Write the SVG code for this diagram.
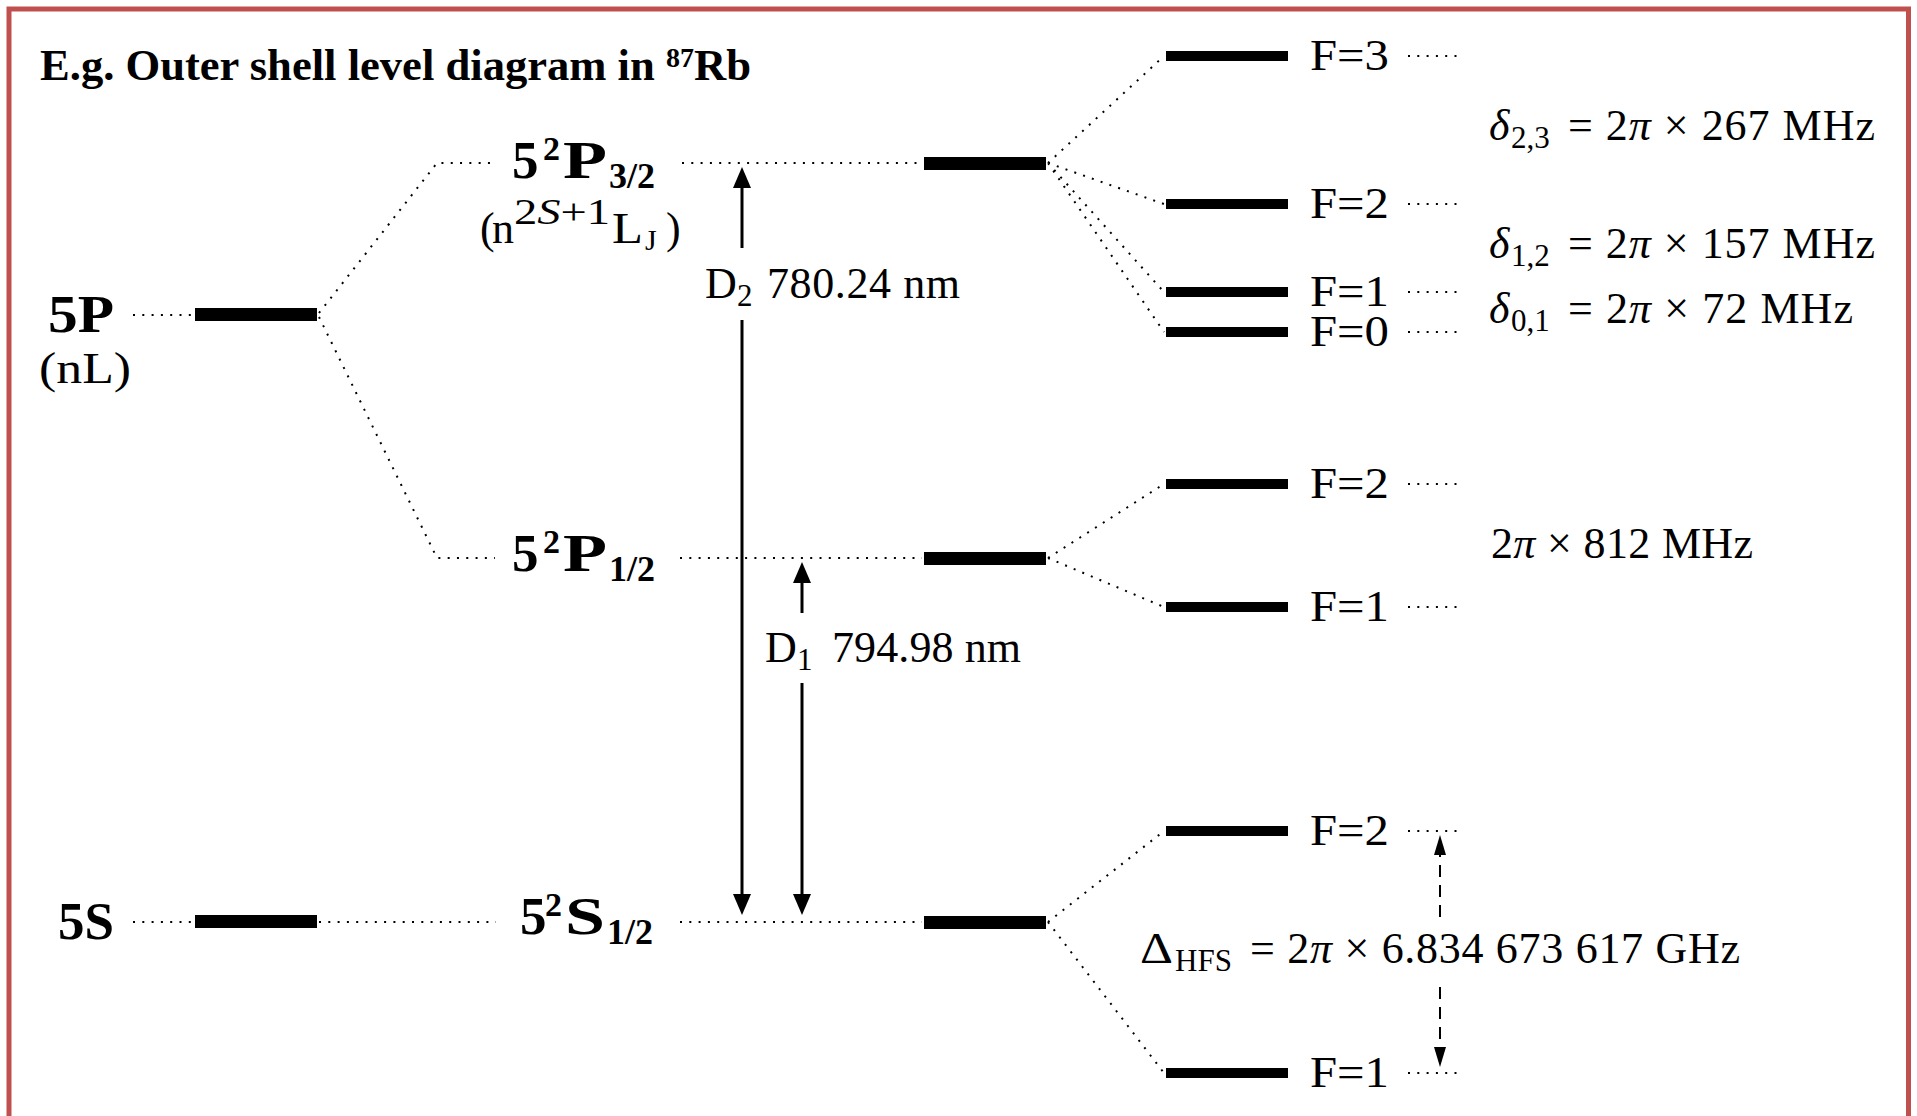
<svg xmlns="http://www.w3.org/2000/svg" width="1917" height="1116" viewBox="0 0 1917 1116">
<defs>
<style>
.t{font-family:"Liberation Serif","DejaVu Serif",serif;fill:#000}
.b{font-weight:bold}
.i{font-style:italic}
.dot{stroke:#000;stroke-width:2;stroke-dasharray:2 7.3;fill:none}
.bar{fill:#000}
.arr{stroke:#000;stroke-width:3;fill:none}
.dash{stroke:#000;stroke-width:2;stroke-dasharray:12 8;fill:none}
</style>
<marker id="ah" viewBox="0 0 21 18" refX="0" refY="9" markerWidth="21" markerHeight="18" markerUnits="userSpaceOnUse" orient="auto"><path d="M0,0 L21,9 L0,18 z" fill="#000"/></marker>
<marker id="ahs" viewBox="0 0 20 12" refX="0" refY="6" markerWidth="20" markerHeight="12" markerUnits="userSpaceOnUse" orient="auto"><path d="M0,0 L20,6 L0,12 z" fill="#000"/></marker>
</defs>
<rect x="0" y="0" width="1917" height="1116" fill="#fff"/>
<rect id="frame" x="9" y="9" width="1899.5" height="1110" fill="none" stroke="#C0504D" stroke-width="5"/>

<g font-size="44">
<text id="title" class="t b" x="40" y="80" font-size="44.6">E.g. Outer shell level diagram in <tspan font-size="28" dy="-13">87</tspan><tspan dy="13">Rb</tspan></text>

<g id="connectors">
<path class="dot" d="M133,315 L192,315 M133,922 L192,922 M319,922 L496,922 M319,313 L437,163 L495,163 M319,317 L437,558 L495,558 M682,163 L922,163 M680,558 L922,558 M680,922 L922,922"/>
<path class="dot" d="M1048,163 L1164,56 M1048,163 L1164,204 M1048,163 L1164,292 M1048,163 L1164,332 M1048,558 L1164,484 M1048,558 L1164,607 M1048,922 L1164,831 M1048,922 L1164,1073"/>
<path class="dot" d="M1408,56 L1462,56 M1408,204 L1462,204 M1408,292 L1462,292 M1408,332 L1462,332 M1408,484 L1462,484 M1408,607 L1462,607 M1408,831 L1462,831 M1408,1073 L1462,1073"/>
<line class="arr" x1="742" y1="248" x2="742" y2="188" marker-end="url(#ah)"/>
<line class="arr" x1="742" y1="320" x2="742" y2="894" marker-end="url(#ah)"/>
<line class="arr" x1="802" y1="613" x2="802" y2="583" marker-end="url(#ah)"/>
<line class="arr" x1="802" y1="683" x2="802" y2="894" marker-end="url(#ah)"/>
<line class="dash" x1="1440" y1="917" x2="1440" y2="855" marker-end="url(#ahs)"/>
<line class="dash" x1="1440" y1="987" x2="1440" y2="1047" marker-end="url(#ahs)"/>
</g>

<g id="n5P">
<rect class="bar" x="195" y="308" width="122" height="13"/>
<text class="t b" x="48" y="332" font-size="52" textLength="66" lengthAdjust="spacingAndGlyphs">5P</text>
<text class="t" x="39" y="383" textLength="92" lengthAdjust="spacingAndGlyphs">(nL)</text>
</g>
<g id="n5S">
<rect class="bar" x="195" y="915" width="122" height="13"/>
<text class="t b" x="58" y="939" font-size="52" textLength="56" lengthAdjust="spacingAndGlyphs">5S</text>
</g>

<g id="n5P32">
<rect class="bar" x="924" y="157" width="122" height="13"/>
<text class="t b" font-size="53"><tspan x="512" y="178">5</tspan><tspan x="543" y="160" font-size="34">2</tspan></text>
<text class="t b" x="563" y="178" font-size="53" textLength="44" lengthAdjust="spacingAndGlyphs">P</text>
<text class="t b" x="609" y="188" font-size="36">3/2</text>
<text class="t"><tspan x="480" y="243">(</tspan><tspan x="492" y="243">n</tspan></text>
<text class="t" x="514" y="224" font-size="36" textLength="96" lengthAdjust="spacingAndGlyphs">2<tspan class="i">S</tspan>+1</text>
<text class="t" x="612" y="243" textLength="31" lengthAdjust="spacingAndGlyphs">L</text>
<text class="t" x="645" y="250" font-size="30">J</text>
<text class="t" x="666" y="243">)</text>
</g>
<g id="n5P12">
<rect class="bar" x="924" y="552" width="122" height="13"/>
<text class="t b" font-size="53"><tspan x="512" y="571">5</tspan><tspan x="543" y="553" font-size="34">2</tspan></text>
<text class="t b" x="563" y="571" font-size="53" textLength="44" lengthAdjust="spacingAndGlyphs">P</text>
<text class="t b" x="609" y="581" font-size="36">1/2</text>
</g>
<g id="n5S12">
<rect class="bar" x="924" y="916" width="122" height="13"/>
<text class="t b" font-size="53"><tspan x="520" y="934">5</tspan><tspan x="545" y="916" font-size="34">2</tspan></text>
<text class="t b" x="565" y="934" font-size="53" textLength="40" lengthAdjust="spacingAndGlyphs">S</text>
<text class="t b" x="607" y="944" font-size="36">1/2</text>
</g>

<g id="lblD2">
<text class="t"><tspan x="705" y="298">D</tspan><tspan x="737" y="306" font-size="31">2</tspan></text>
<text class="t" x="767" y="298" textLength="193">780.24 nm</text>
</g>
<g id="lblD1">
<text class="t"><tspan x="765" y="662">D</tspan><tspan x="797" y="670" font-size="31">1</tspan></text>
<text class="t" x="832" y="662" textLength="189">794.98 nm</text>
</g>

<g id="hfP32">
<rect class="bar" x="1166" y="51" width="122" height="10"/>
<rect class="bar" x="1166" y="199" width="122" height="10"/>
<rect class="bar" x="1166" y="287" width="122" height="10"/>
<rect class="bar" x="1166" y="327" width="122" height="10"/>
<text class="t" x="1310" y="70" textLength="79" lengthAdjust="spacingAndGlyphs">F=3</text>
<text class="t" x="1310" y="218" textLength="79" lengthAdjust="spacingAndGlyphs">F=2</text>
<text class="t" x="1310" y="306" textLength="79" lengthAdjust="spacingAndGlyphs">F=1</text>
<text class="t" x="1310" y="346" textLength="79" lengthAdjust="spacingAndGlyphs">F=0</text>
</g>
<g id="hfP12">
<rect class="bar" x="1166" y="479" width="122" height="10"/>
<rect class="bar" x="1166" y="602" width="122" height="10"/>
<text class="t" x="1310" y="498" textLength="79" lengthAdjust="spacingAndGlyphs">F=2</text>
<text class="t" x="1310" y="621" textLength="79" lengthAdjust="spacingAndGlyphs">F=1</text>
</g>
<g id="hfS12">
<rect class="bar" x="1166" y="826" width="122" height="10"/>
<rect class="bar" x="1166" y="1068" width="122" height="10"/>
<text class="t" x="1310" y="845" textLength="79" lengthAdjust="spacingAndGlyphs">F=2</text>
<text class="t" x="1310" y="1087" textLength="79" lengthAdjust="spacingAndGlyphs">F=1</text>
</g>

<g id="splittings">
<text class="t"><tspan class="i" x="1489" y="140">δ</tspan><tspan x="1511" y="148" font-size="31">2,3</tspan></text>
<text class="t" x="1568" y="140" textLength="307">= 2<tspan class="i">π</tspan> × 267 MHz</text>
<text class="t"><tspan class="i" x="1489" y="258">δ</tspan><tspan x="1511" y="266" font-size="31">1,2</tspan></text>
<text class="t" x="1568" y="258" textLength="307">= 2<tspan class="i">π</tspan> × 157 MHz</text>
<text class="t"><tspan class="i" x="1489" y="323">δ</tspan><tspan x="1511" y="331" font-size="31">0,1</tspan></text>
<text class="t" x="1568" y="323" textLength="285">= 2<tspan class="i">π</tspan> × 72 MHz</text>
<text class="t" x="1491" y="558" textLength="262">2<tspan class="i">π</tspan> × 812 MHz</text>
<text class="t" x="1140" y="963" textLength="33" lengthAdjust="spacingAndGlyphs">Δ</text>
<text class="t" x="1175" y="971" font-size="31">HFS</text>
<text class="t" x="1250" y="963" textLength="490">= 2<tspan class="i">π</tspan> × 6.834 673 617 GHz</text>
</g>
</g>
</svg>
